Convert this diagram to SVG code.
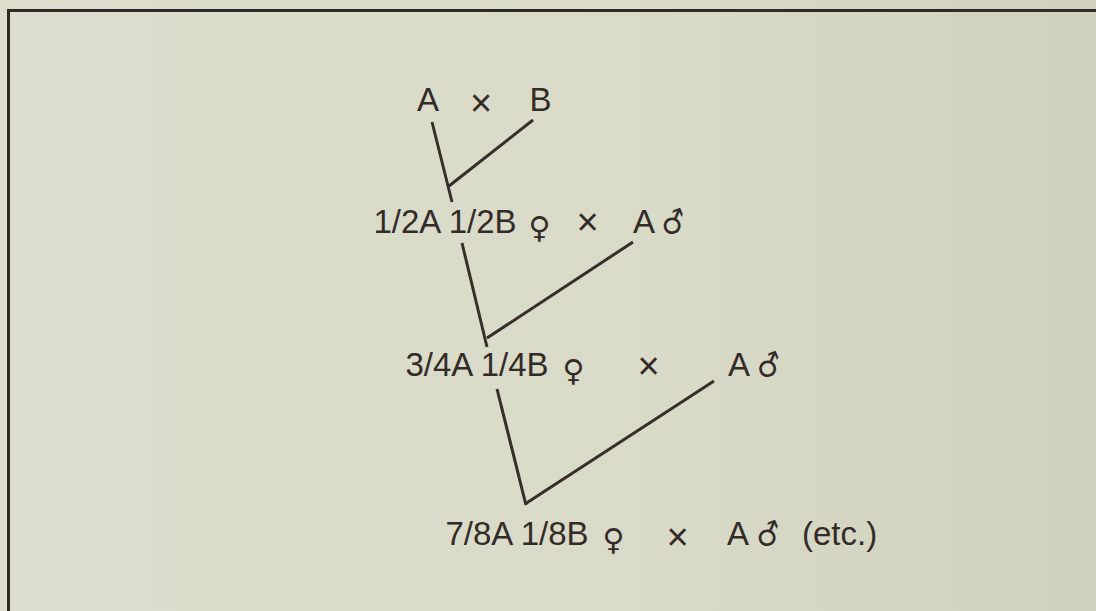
<svg xmlns="http://www.w3.org/2000/svg" width="1096" height="611" viewBox="0 0 1096 611">
<defs>
<linearGradient id="bg" x1="0" y1="0" x2="1" y2="0">
<stop offset="0" stop-color="#dcddcc"/>
<stop offset="0.6" stop-color="#d9dbc8"/>
<stop offset="1" stop-color="#cfd1bd"/>
</linearGradient>
<style>
.t{font-family:"Liberation Sans",Arial,sans-serif;font-size:33px;fill:#332b28}
.x{font-family:"Liberation Sans",Arial,sans-serif;font-size:38px;fill:#332b28;text-anchor:middle}
.f{font-family:"DejaVu Sans",sans-serif;font-size:30px;fill:#332b28;font-weight:bold}
.m{font-family:"DejaVu Sans",sans-serif;font-size:30px;fill:#332b28;font-weight:bold}
.c{stroke:#372e2a;stroke-width:3;fill:none;stroke-linecap:butt}
</style>
</defs>
<rect width="1096" height="611" fill="url(#bg)"/>
<path d="M8.5,611 V10.5 H1096" fill="none" stroke="#2e2a26" stroke-width="3"/>
<g id="connectors">
<line class="c" x1="432" y1="122" x2="452" y2="202"/>
<line class="c" x1="533" y1="120" x2="449" y2="186"/>
<line class="c" x1="462" y1="243" x2="487" y2="347"/>
<line class="c" x1="633" y1="242" x2="487" y2="338"/>
<line class="c" x1="497" y1="389" x2="526" y2="505"/>
<line class="c" x1="714" y1="381" x2="525" y2="504"/>
</g>
<g id="row1">
<text class="t" x="417" y="111">A</text>
<text class="x" x="481" y="116">×</text>
<text class="t" x="529.5" y="111">B</text>
</g>
<g id="row2">
<text class="t" x="373.5" y="233">1/2A 1/2B</text>
<text class="f" x="528.5" y="238">♀</text>
<text class="x" x="587.5" y="234.5">×</text>
<text class="t" x="633" y="233">A</text>
<g transform="translate(670.5,225) rotate(-22)"><text class="m" x="-9.5" y="9">♂</text></g>
</g>
<g id="row3">
<text class="t" x="405.5" y="376">3/4A 1/4B</text>
<text class="f" x="562.5" y="381">♀</text>
<text class="x" x="648.5" y="379">×</text>
<text class="t" x="728" y="376">A</text>
<g transform="translate(766,368) rotate(-22)"><text class="m" x="-9.5" y="9">♂</text></g>
</g>
<g id="row4">
<text class="t" x="445.5" y="545">7/8A 1/8B</text>
<text class="f" x="602.5" y="550">♀</text>
<text class="x" x="677.5" y="550">×</text>
<text class="t" x="727" y="545">A</text>
<g transform="translate(765.5,537) rotate(-22)"><text class="m" x="-9.5" y="9">♂</text></g>
<text class="t" x="802" y="545">(etc.)</text>
</g>
</svg>
